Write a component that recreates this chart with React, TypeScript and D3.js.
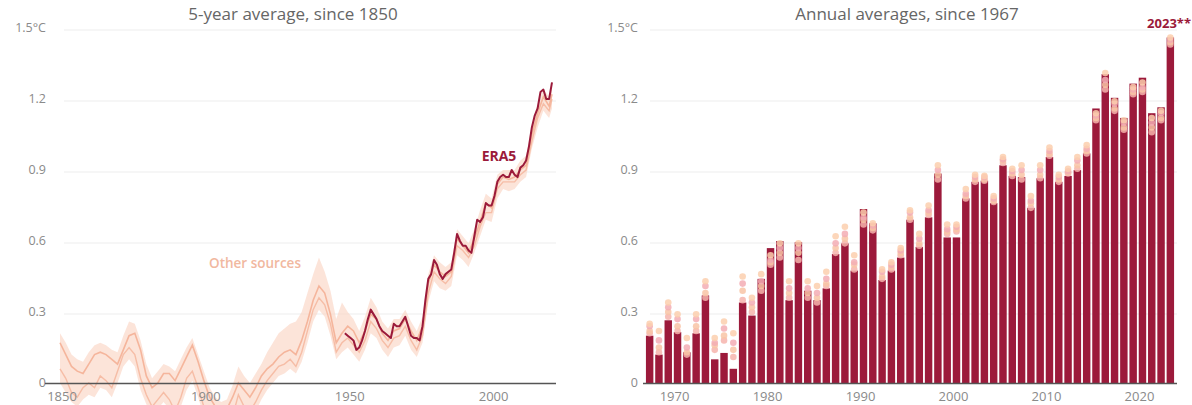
import React from 'react';
import * as d3 from 'd3';

// ---- Left panel: 5-year running averages (°C above 1850-1900) ----
const ERA5_5YR_YEARS = d3.range(1949, 2022);
const ERA5_5YR = [
  0.21, 0.20, 0.19, 0.18, 0.14, 0.15, 0.18, 0.22, 0.27, 0.31,
  0.29, 0.27, 0.24, 0.22, 0.21, 0.20, 0.19, 0.25, 0.24, 0.24,
  0.26, 0.28, 0.24, 0.20, 0.19, 0.19, 0.18, 0.24, 0.35, 0.44,
  0.46, 0.52, 0.50, 0.46, 0.44, 0.46, 0.47, 0.48, 0.55, 0.63,
  0.60, 0.58, 0.58, 0.56, 0.55, 0.62, 0.69, 0.68, 0.70, 0.76,
  0.75, 0.75, 0.79, 0.85, 0.87, 0.88, 0.87, 0.87, 0.90, 0.88,
  0.87, 0.91, 0.92, 0.94, 1.00, 1.08, 1.13, 1.16, 1.23, 1.24,
  1.20, 1.20, 1.27,
];

const OTHER_YEARS = [...d3.range(1850, 2021, 2), 2021];
const OTHER_A = [
  0.17, 0.12, 0.07, 0.05, 0.04, 0.08, 0.12, 0.13, 0.12, 0.10,
  0.08, 0.14, 0.20, 0.21, 0.14, 0.03, -0.02, 0.00, 0.04, 0.04,
  0.01, 0.06, 0.11, 0.16, 0.09, 0.01, -0.06, -0.10, -0.12, -0.11,
  -0.06, 0.00, -0.03, -0.06, -0.02, 0.03, 0.06, 0.08, 0.11, 0.13,
  0.14, 0.12, 0.18, 0.26, 0.35, 0.41, 0.38, 0.29, 0.17, 0.21,
  0.24, 0.22, 0.17, 0.22, 0.29, 0.27, 0.21, 0.18, 0.22, 0.23,
  0.27, 0.22, 0.18, 0.24, 0.42, 0.50, 0.47, 0.45, 0.47, 0.61,
  0.58, 0.55, 0.61, 0.68, 0.76, 0.74, 0.84, 0.87, 0.86, 0.87,
  0.90, 0.92, 1.05, 1.14, 1.21, 1.17, 1.22,
];
const OTHER_B = [
  0.06, 0.02, -0.04, -0.06, -0.02, 0.00, -0.02, 0.03, 0.01, -0.02,
  0.05, 0.12, 0.15, 0.12, 0.02, -0.05, -0.10, -0.07, -0.04, -0.07,
  -0.12, -0.06, 0.02, 0.05, -0.02, -0.10, -0.14, -0.17, -0.18, -0.17,
  -0.14, -0.05, -0.10, -0.12, -0.08, -0.03, 0.01, 0.04, 0.07, 0.08,
  0.10, 0.07, 0.13, 0.22, 0.31, 0.36, 0.33, 0.25, 0.13, 0.17,
  0.19, 0.16, 0.13, 0.18, 0.26, 0.23, 0.18, 0.15, 0.19, 0.20,
  0.24, 0.18, 0.14, 0.20, 0.38, 0.47, 0.44, 0.42, 0.45, 0.58,
  0.56, 0.53, 0.58, 0.66, 0.72, 0.72, 0.82, 0.85, 0.85, 0.85,
  0.88, 0.90, 1.02, 1.12, 1.18, 1.15, 1.20,
];
const OTHER_LO = [
  0.00, -0.04, -0.08, -0.10, -0.07, -0.05, -0.06, -0.02, -0.03, -0.06,
  0.00, 0.07, 0.10, 0.07, -0.03, -0.09, -0.14, -0.11, -0.08, -0.11,
  -0.15, -0.10, -0.03, 0.01, -0.06, -0.14, -0.18, -0.21, -0.22, -0.21,
  -0.18, -0.10, -0.14, -0.16, -0.12, -0.07, -0.03, 0.00, 0.03, 0.04,
  0.06, 0.04, 0.09, 0.17, 0.26, 0.31, 0.28, 0.20, 0.10, 0.13,
  0.15, 0.12, 0.09, 0.14, 0.21, 0.19, 0.14, 0.11, 0.15, 0.16,
  0.20, 0.14, 0.11, 0.17, 0.34, 0.43, 0.40, 0.39, 0.41, 0.54,
  0.52, 0.49, 0.55, 0.62, 0.69, 0.68, 0.78, 0.82, 0.81, 0.82,
  0.85, 0.87, 0.99, 1.08, 1.15, 1.12, 1.16,
];
const OTHER_HI = [
  0.21, 0.17, 0.12, 0.10, 0.09, 0.13, 0.16, 0.17, 0.16, 0.14,
  0.13, 0.20, 0.26, 0.25, 0.18, 0.08, 0.02, 0.05, 0.08, 0.07,
  0.05, 0.10, 0.15, 0.19, 0.12, 0.05, -0.02, -0.06, -0.08, -0.07,
  -0.01, 0.07, 0.03, 0.00, 0.04, 0.08, 0.13, 0.17, 0.21, 0.23,
  0.25, 0.26, 0.30, 0.38, 0.46, 0.53, 0.47, 0.39, 0.27, 0.34,
  0.30, 0.27, 0.22, 0.28, 0.36, 0.32, 0.26, 0.23, 0.27, 0.27,
  0.31, 0.26, 0.22, 0.28, 0.46, 0.54, 0.51, 0.49, 0.51, 0.65,
  0.62, 0.59, 0.65, 0.73, 0.80, 0.78, 0.88, 0.90, 0.90, 0.90,
  0.94, 0.96, 1.09, 1.18, 1.24, 1.21, 1.25,
];

// ---- Right panel: annual averages ----
const ANNUAL_YEARS = d3.range(1967, 2024);
const ERA5_ANNUAL = [
  0.20, 0.12, 0.265, 0.215, 0.13, 0.21, 0.37, 0.10, 0.127, 0.06,
  0.34, 0.285, 0.44, 0.57, 0.60, 0.35, 0.595, 0.39, 0.35, 0.40,
  0.545, 0.59, 0.475, 0.735, 0.675, 0.435, 0.475, 0.53, 0.69, 0.575,
  0.70, 0.885, 0.615, 0.615, 0.78, 0.85, 0.855, 0.76, 0.92, 0.875,
  0.87, 0.74, 0.865, 0.955, 0.85, 0.875, 0.90, 0.97, 1.16, 1.305,
  1.205, 1.12, 1.265, 1.29, 1.14, 1.165, 1.46,
];
const SOURCE_1 = [
  0.21, 0.13, 0.28, 0.22, 0.12, 0.22, 0.36, 0.14, 0.18, 0.11,
  0.35, 0.30, 0.39, 0.50, 0.53, 0.36, 0.52, 0.36, 0.34, 0.41,
  0.55, 0.59, 0.48, 0.67, 0.645, 0.44, 0.48, 0.54, 0.69, 0.58,
  0.71, 0.86, 0.63, 0.64, 0.78, 0.85, 0.855, 0.765, 0.93, 0.875,
  0.86, 0.74, 0.865, 0.96, 0.85, 0.885, 0.905, 0.97, 1.11, 1.24,
  1.15, 1.07, 1.22, 1.23, 1.06, 1.11, 1.43,
];
const SOURCE_2 = [
  0.22, 0.15, 0.30, 0.24, 0.13, 0.24, 0.38, 0.16, 0.20, 0.14,
  0.39, 0.32, 0.41, 0.51, 0.55, 0.38, 0.55, 0.38, 0.36, 0.42,
  0.57, 0.61, 0.50, 0.69, 0.655, 0.45, 0.49, 0.55, 0.70, 0.59,
  0.72, 0.88, 0.64, 0.65, 0.79, 0.86, 0.86, 0.77, 0.94, 0.885,
  0.88, 0.76, 0.88, 0.97, 0.86, 0.89, 0.92, 0.98, 1.12, 1.26,
  1.16, 1.08, 1.23, 1.24, 1.08, 1.12, 1.44,
];
const SOURCE_3 = [
  0.24, 0.18, 0.32, 0.27, 0.15, 0.27, 0.41, 0.17, 0.23, 0.17,
  0.42, 0.34, 0.43, 0.52, 0.57, 0.40, 0.57, 0.40, 0.38, 0.44,
  0.59, 0.63, 0.51, 0.70, 0.665, 0.47, 0.50, 0.56, 0.72, 0.61,
  0.73, 0.90, 0.65, 0.66, 0.80, 0.87, 0.87, 0.78, 0.945, 0.895,
  0.90, 0.77, 0.90, 0.98, 0.87, 0.895, 0.94, 0.99, 1.13, 1.28,
  1.18, 1.10, 1.24, 1.25, 1.10, 1.14, 1.45,
];
const SOURCE_4 = [
  0.25, 0.22, 0.34, 0.29, 0.19, 0.29, 0.43, 0.19, 0.26, 0.21,
  0.45, 0.36, 0.46, 0.54, 0.59, 0.43, 0.59, 0.43, 0.41, 0.47,
  0.62, 0.66, 0.54, 0.72, 0.675, 0.48, 0.51, 0.57, 0.73, 0.63,
  0.75, 0.92, 0.67, 0.67, 0.82, 0.88, 0.875, 0.79, 0.955, 0.905,
  0.92, 0.79, 0.92, 0.995, 0.88, 0.905, 0.955, 1.005, 1.14, 1.31,
  1.19, 1.11, 1.25, 1.27, 1.12, 1.15, 1.46,
];
const SOURCES = [SOURCE_1, SOURCE_2, SOURCE_3, SOURCE_4];
const SOURCE_COLORS = ['#f6b4ad', '#f8c4a6', '#f3adb4', '#fbcfae'];

// ---- Axes ----
const Y_TICKS = [0, 0.3, 0.6, 0.9, 1.2, 1.5];
const Y_TICK_LABELS = ['0', '0.3', '0.6', '0.9', '1.2', '1.5°C'];
const LEFT_X_TICKS = [1850, 1900, 1950, 2000];
const RIGHT_X_TICKS = [1970, 1980, 1990, 2000, 2010, 2020];

const W = 1192;
const H = 405;
const FONT = "'Open Sans', 'Noto Sans', sans-serif";
const ERA5_COLOR = '#9b1a3a';
const BAR_COLOR = '#9c1a3b';
const OTHER_LINE = '#f3ad90';
const OTHER_BAND = '#fbd6c4';
const TEXT_GREY = '#8a8a8a';
const GRID = '#ededed';

export default function App() {
  const y = d3.scaleLinear().domain([0, 1.5]).range([383, 28]);

  // left panel
  const xL = d3.scaleLinear().domain([1850, 2021]).range([60, 552]);
  const band = d3
    .area<number>()
    .x((_, i) => xL(OTHER_YEARS[i]))
    .y0((_, i) => y(OTHER_LO[i]))
    .y1((_, i) => y(OTHER_HI[i]));
  const otherLine = (vals: number[]) =>
    d3
      .line<number>()
      .x((_, i) => xL(OTHER_YEARS[i]))
      .y((d) => y(d))(vals) || '';
  const era5Line =
    d3
      .line<number>()
      .x((_, i) => xL(ERA5_5YR_YEARS[i]))
      .y((d) => y(d))(ERA5_5YR) || '';

  // right panel
  const xR = d3
    .scaleBand<number>()
    .domain(ANNUAL_YEARS)
    .range([645, 1175])
    .paddingInner(0.2)
    .paddingOuter(0.1);
  const bw = xR.bandwidth();

  const leftAxisX = [45, 556];
  const rightAxisX = [643, 1177];

  return (
    <svg
      width={W}
      height={H}
      viewBox={`0 0 ${W} ${H}`}
      style={{ position: 'absolute', left: 0, top: 0, background: '#fff', fontFamily: FONT }}
    >
      <defs>
        <clipPath id="plot-clip">
          <rect x={0} y={0} width={W} height={H} />
        </clipPath>
      </defs>

      {/* titles */}
      <text x={293} y={20} textAnchor="middle" fontSize={17} fill="#666">
        5-year average, since 1850
      </text>
      <text x={907} y={20} textAnchor="middle" fontSize={17} fill="#666">
        Annual averages, since 1967
      </text>

      {/* grid + y labels, left */}
      {Y_TICKS.map((t, i) => (
        <g key={`gl${t}`}>
          {t > 0 && <line x1={64} x2={556} y1={y(t) + 2} y2={y(t) + 2} stroke={GRID} strokeWidth={1} />}
          <text x={46} y={y(t) + 4} textAnchor="end" fontSize={12.5} fill={TEXT_GREY}>
            {Y_TICK_LABELS[i]}
          </text>
        </g>
      ))}
      {/* grid + y labels, right */}
      {Y_TICKS.map((t, i) => (
        <g key={`gr${t}`}>
          {t > 0 && <line x1={650} x2={1177} y1={y(t) + 2} y2={y(t) + 2} stroke={GRID} strokeWidth={1} />}
          <text x={638} y={y(t) + 4} textAnchor="end" fontSize={12.5} fill={TEXT_GREY}>
            {Y_TICK_LABELS[i]}
          </text>
        </g>
      ))}

      {/* left panel series */}
      <g clipPath="url(#plot-clip)">
        <path d={band(OTHER_A) || ''} fill={OTHER_BAND} opacity={0.65} />
        <path d={otherLine(OTHER_B)} fill="none" stroke={OTHER_LINE} strokeWidth={1.4} opacity={0.7} />
        <path d={otherLine(OTHER_A)} fill="none" stroke={OTHER_LINE} strokeWidth={1.6} opacity={0.85} />
        <path d={era5Line} fill="none" stroke={ERA5_COLOR} strokeWidth={2} strokeLinejoin="round" />
      </g>
      <text x={255} y={268} textAnchor="middle" fontSize={13.5} fontWeight={600} fill="#f1b8a0">
        Other sources
      </text>
      <text x={499} y={161} textAnchor="middle" fontSize={14} fontWeight={700} fill={ERA5_COLOR}>
        ERA5
      </text>

      {/* left x axis */}
      <line x1={leftAxisX[0]} x2={leftAxisX[1]} y1={383.5} y2={383.5} stroke="#555" strokeWidth={1.4} />
      {LEFT_X_TICKS.map((t) => (
        <text key={`lx${t}`} x={xL(t) + 2} y={401} textAnchor="middle" fontSize={13} fill={TEXT_GREY}>
          {t}
        </text>
      ))}

      {/* right panel bars */}
      {ANNUAL_YEARS.map((yr, i) => (
        <rect
          key={`b${yr}`}
          x={xR(yr)}
          y={y(ERA5_ANNUAL[i])}
          width={bw}
          height={y(0) - y(ERA5_ANNUAL[i])}
          fill={BAR_COLOR}
        />
      ))}
      {/* other datasets as dots */}
      {SOURCES.map((src, k) =>
        ANNUAL_YEARS.map((yr, i) => (
          <circle
            key={`d${k}-${yr}`}
            cx={(xR(yr) as number) + bw / 2}
            cy={y(src[i])}
            r={3.3}
            fill={SOURCE_COLORS[k]}
            opacity={0.85}
          />
        ))
      )}
      <text x={1191} y={28} textAnchor="end" fontSize={13} fontWeight={700} fill={ERA5_COLOR}>
        2023**
      </text>

      {/* right x axis */}
      <line x1={rightAxisX[0]} x2={rightAxisX[1]} y1={383.5} y2={383.5} stroke="#555" strokeWidth={1.4} />
      {RIGHT_X_TICKS.map((t) => (
        <text
          key={`rx${t}`}
          x={(xR(t) as number) + bw / 2 - 3}
          y={401}
          textAnchor="middle"
          fontSize={13}
          fill={TEXT_GREY}
        >
          {t}
        </text>
      ))}
    </svg>
  );
}
